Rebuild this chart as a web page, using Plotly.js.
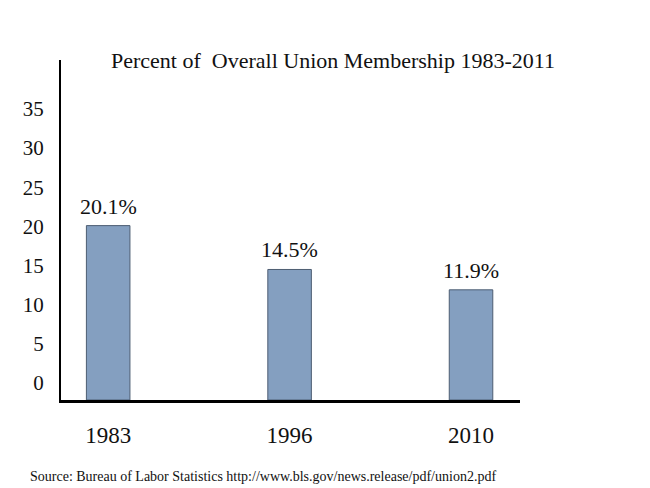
<!DOCTYPE html>
<html>
<head>
<meta charset="utf-8">
<script src="https://cdn.plot.ly/plotly-3.0.1.min.js"></script>
<style>html,body{margin:0;padding:0;background:#fff;}#chart{width:650px;height:488px;}</style>
</head>
<body>
<div id="chart"></div>
<script>
// Data
const years = ['1983', '1996', '2010'];
const percents = [20.1, 14.5, 11.9];
const yTickVals = [0, 5, 10, 15, 20, 25, 30, 35];
const titleText = 'Percent of  Overall Union Membership 1983-2011';
const sourceText = 'Source: Bureau of Labor Statistics http://www.bls.gov/news.release/pdf/union2.pdf';

const FLOOR = -2.17; // the bars in the original reach down to the axis line
const serif = 'Liberation Serif';

const trace = {
  type: 'bar',
  x: years,
  y: percents.map(v => v - FLOOR),
  base: FLOOR,
  width: 0.24,
  marker: {color: '#849fc0', line: {color: '#4d5d72', width: 1}},
  hoverinfo: 'skip'
};

const annotations = years.map((yr, i) => ({
  x: i, y: percents[i], xref: 'x', yref: 'y',
  text: percents[i].toFixed(1) + '%',
  showarrow: false, yanchor: 'bottom', yshift: 5,
  font: {family: serif, size: 22, color: '#111'}
}));
annotations.push({
  x: (28 - 61) / 459, y: (400 - 476) / 340, xref: 'paper', yref: 'paper',
  xanchor: 'left', yanchor: 'middle', showarrow: false,
  text: sourceText, font: {family: serif, size: 14, color: '#111'}
});

const layout = {
  width: 650, height: 488,
  margin: {l: 61, r: 130, t: 60, b: 88},
  paper_bgcolor: '#fff', plot_bgcolor: '#fff',
  showlegend: false,
  font: {family: serif},
  title: {
    text: titleText, x: 333 / 650, xanchor: 'center',
    y: 1 - 60 / 488, yanchor: 'middle', yref: 'container',
    font: {family: serif, size: 22, color: '#111'}
  },
  xaxis: {
    type: 'category', range: [-0.26, 2.27],
    showline: true, linecolor: '#000', linewidth: 2.5,
    showgrid: false, zeroline: false, ticks: '',
    ticklabelstandoff: 13,
    tickfont: {family: serif, size: 23, color: '#111'}
  },
  yaxis: {
    range: [FLOOR, 41.25],
    tickvals: yTickVals,
    showline: true, linecolor: '#000', linewidth: 2,
    showgrid: false, zeroline: false, ticks: '',
    ticklabelstandoff: 11,
    tickfont: {family: serif, size: 21, color: '#111'}
  },
  annotations: annotations
};

Plotly.newPlot('chart', [trace], layout, {displayModeBar: false, staticPlot: true});
</script>
</body>
</html>
